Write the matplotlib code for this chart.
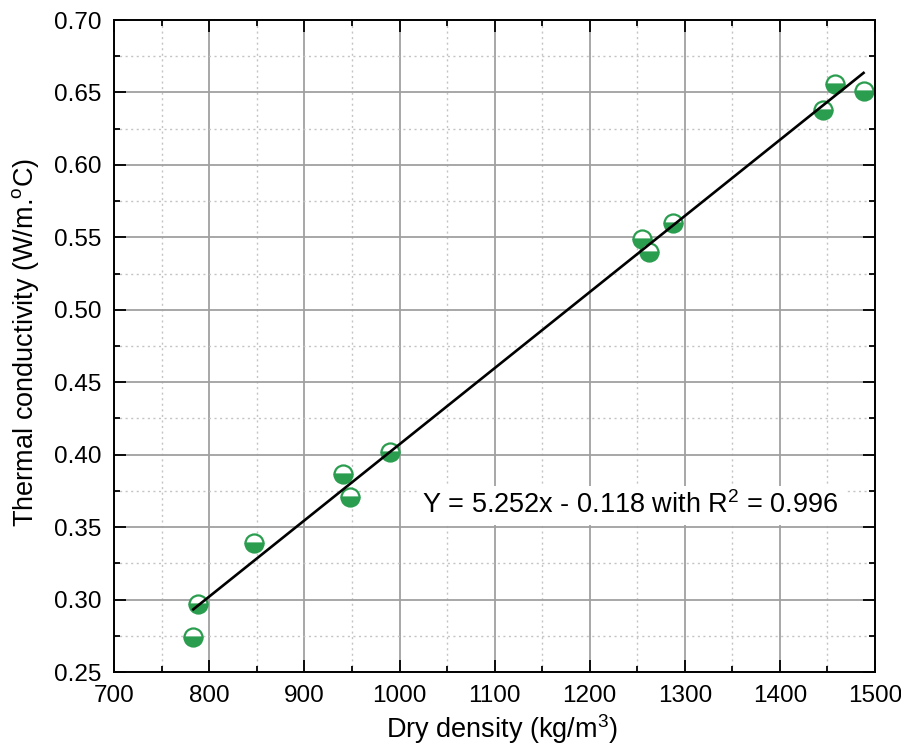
import matplotlib
matplotlib.use('Agg')
import matplotlib.pyplot as plt
from matplotlib.ticker import MultipleLocator
import numpy as np

plt.rcParams['font.family'] = ['Liberation Sans', 'DejaVu Sans']
plt.rcParams['mathtext.default'] = 'regular'

# dry density (kg/m3) and thermal conductivity (W/m.oC)
density = [783, 788, 847, 941, 948, 990, 1255, 1262, 1288, 1445, 1458, 1488]
conductivity = [0.274, 0.297, 0.339, 0.387, 0.371, 0.402, 0.549, 0.540, 0.560, 0.638, 0.656, 0.651]

# linear fit from the label (x in kg/m3)
slope = 5.252e-4
intercept = -0.118
fit_label = 'Y = 5.252x - 0.118 with R$^2$ = 0.996'

green = '#2a9d4f'

fig = plt.figure(figsize=(9.01, 7.47), dpi=100)
ax = fig.add_axes([0.1269, 0.1004, 0.8442, 0.8728])

xs = np.array([min(density), max(density)])
ax.plot(xs, slope * xs + intercept, color='black', lw=1.9, zorder=3)

ax.plot(density, conductivity, linestyle='none', marker='o', markersize=13,
        fillstyle='bottom', markerfacecolor=green, markerfacecoloralt='white',
        markeredgecolor=green, markeredgewidth=1.6, zorder=2)

ax.set_xlim(700, 1500)
ax.set_ylim(0.25, 0.70)
ax.xaxis.set_major_locator(MultipleLocator(100))
ax.xaxis.set_minor_locator(MultipleLocator(50))
ax.yaxis.set_major_locator(MultipleLocator(0.05))
ax.yaxis.set_minor_locator(MultipleLocator(0.025))
ax.yaxis.set_major_formatter(plt.FormatStrFormatter('%.2f'))

ax.grid(which='major', color='#a0a0a0', lw=1.3, ls='-', zorder=0)
ax.grid(which='minor', color='#c4c4c4', lw=1.0, ls=(0, (1.5, 2.5)), zorder=0)
ax.set_axisbelow(True)

ax.tick_params(which='both', direction='in', top=True, right=True, labelsize=17.5, pad=9)
ax.tick_params(which='major', length=8.5, width=1.3)
ax.tick_params(which='minor', length=4.3, width=1.3)
for sp in ax.spines.values():
    sp.set_linewidth(1.4)

ax.set_xlabel('Dry density (kg/m$^3$)', fontsize=19.5)
ax.set_ylabel('Thermal conductivity (W/m.$^o$C)', fontsize=19.5)
ax.xaxis.set_label_coords(0.51, -0.062)
ax.yaxis.set_label_coords(-0.097, 0.505)

ax.text(1243, 0.365, fit_label, fontsize=19.5, ha='center', va='center',
        bbox=dict(facecolor='white', edgecolor='none', pad=4), zorder=4)

fig.savefig('out.png', dpi=100)
